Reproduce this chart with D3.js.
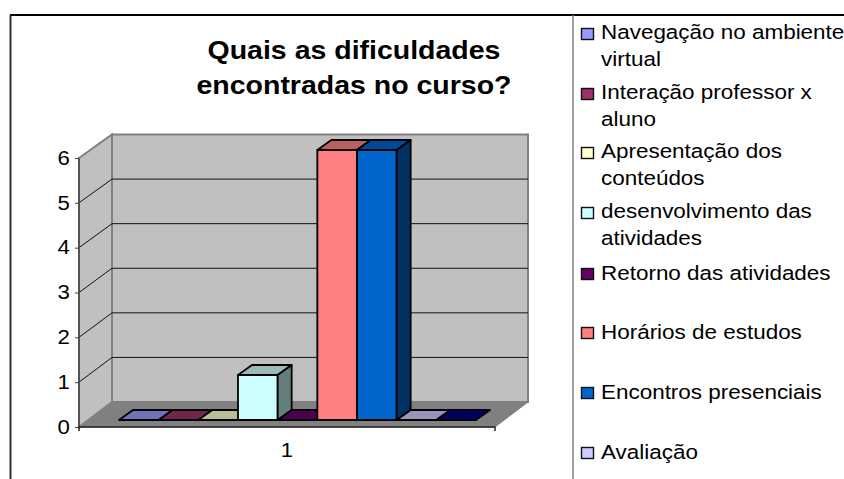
<!DOCTYPE html>
<html><head><meta charset="utf-8">
<script src="https://cdn.jsdelivr.net/npm/d3@7/dist/d3.min.js"></script>
<style>html,body{margin:0;padding:0;background:#fff;overflow:hidden}svg{display:block}text{font-family:"Liberation Sans",Arial,sans-serif;fill:#000}</style>
</head><body><div id="c"></div>
<script>
const titleLines = ["Quais as dificuldades", "encontradas no curso?"];
const seriesNames = ["Navegação no ambiente virtual", "Interação professor x aluno", "Apresentação dos conteúdos", "desenvolvimento das atividades", "Retorno das atividades", "Horários de estudos", "Encontros presenciais", "Avaliação", "(sem legenda)"];
const seriesValues = [0, 0, 0, 1, 0, 6, 6, 0, 0];
const seriesColors = ["#9999FF", "#993366", "#FFFFCC", "#CCFFFF", "#660066", "#FF8080", "#0066CC", "#CCCCFF", "#000080"];
const legendLabels = [["Navegação no ambiente", "virtual"], ["Interação professor x", "aluno"], ["Apresentação dos", "conteúdos"], ["desenvolvimento das", "atividades"], ["Retorno das atividades"], ["Horários de estudos"], ["Encontros presenciais"], ["Avaliação"]];
const legendCenters = [34, 94, 153, 213, 274, 333, 393, 453];
const yTicks = [0, 1, 2, 3, 4, 5, 6];
const xCategory = ["1"];

const W = 844, H = 479, sx = 1.14;
const svg = d3.select("#c").append("svg").attr("width", W).attr("height", H);

const dx = 33;
const y = d3.scaleLinear().domain([0, 6]).range([427, 158]);
const yBack = d3.scaleLinear().domain([0, 6]).range([402, 134.5]);
const xCat = d3.scaleBand().domain(xCategory).range([79, 495]);
const xBar = d3.scaleBand().domain(d3.range(seriesValues.length)).range([119, 476]);
const yBar = d3.scaleLinear().domain([0, 6]).range([420, 150]);
const bdx = 14, bdy = -10;
const pts = a => a.map(p => p.join(",")).join(" ");

// frame
svg.append("line").attr("x1", 10).attr("x2", W).attr("y1", 15).attr("y2", 15).attr("stroke", "#000").attr("stroke-width", 2);
svg.append("line").attr("x1", 10.5).attr("x2", 10.5).attr("y1", 15).attr("y2", H).attr("stroke", "#333").attr("stroke-width", 2);
svg.append("line").attr("x1", 573).attr("x2", 573).attr("y1", 15).attr("y2", H).attr("stroke", "#808080").attr("stroke-width", 1.5);

// title
svg.append("g").selectAll("text").data(titleLines).join("text")
  .attr("transform", (d, i) => `translate(354,${59 + i * 35}) scale(${sx},1)`)
  .attr("text-anchor", "middle").attr("font-weight", "bold").attr("font-size", 25).text(d => d);

// walls and floor
const x0 = xCat.range()[0], x1 = xCat.range()[1];
const y0 = y(0), yT = y(6), b0 = yBack(0), bT = yBack(6);
svg.append("polygon").attr("points", pts([[x0 + dx, bT], [x1 + dx, bT], [x1 + dx, b0], [x0 + dx, b0]]))
  .attr("fill", "#C0C0C0").attr("stroke", "#808080").attr("stroke-width", 2);
svg.append("polygon").attr("points", pts([[x0, yT], [x0 + dx, bT], [x0 + dx, b0], [x0, y0]]))
  .attr("fill", "#C0C0C0").attr("stroke", "#808080").attr("stroke-width", 2);
svg.append("polygon").attr("points", pts([[x0, y0], [x1, y0], [x1 + dx, b0], [x0 + dx, b0]]))
  .attr("fill", "#808080").attr("stroke", "#808080");

// gridlines
svg.append("g").selectAll("polyline").data(yTicks.filter(t => t > 0 && t < 6)).join("polyline")
  .attr("points", d => pts([[x0, y(d)], [x0 + dx, yBack(d)], [x1 + dx, yBack(d)]]))
  .attr("fill", "none").attr("stroke", "#111").attr("stroke-width", 1);

// bars
const bars = svg.append("g").selectAll("g").data(seriesValues).join("g");
bars.each(function (v, i) {
  const g = d3.select(this), a = xBar(i), b = a + xBar.bandwidth(), t = yBar(v), f = yBar(0), c = d3.color(seriesColors[i]);
  const style = s => s.attr("stroke", "#000").attr("stroke-width", 1.8).attr("stroke-linejoin", "round");
  if (v > 0) style(g.append("polygon").attr("points", pts([[a, t], [b, t], [b, f], [a, f]])).attr("fill", c));
  style(g.append("polygon").attr("points", pts([[a, t], [b, t], [b + bdx, t + bdy], [a + bdx, t + bdy]])).attr("fill", c.darker(0.85)));
  if (v > 0) style(g.append("polygon").attr("points", pts([[b, t], [b + bdx, t + bdy], [b + bdx, f + bdy], [b, f]])).attr("fill", c.darker(2)));
});

// axes
const yAxis = d3.axisLeft(y).tickValues(yTicks).tickFormat(d3.format("d")).tickSize(4).tickPadding(4);
const gy = svg.append("g").attr("transform", `translate(${x0},0)`).call(yAxis);
gy.selectAll("text").attr("font-size", 19.5).attr("font-family", '"Liberation Sans",Arial,sans-serif').attr("transform", `scale(${sx},1)`);
gy.selectAll(".tick line").attr("stroke", "#444");
gy.select(".domain").attr("stroke", "#444").attr("stroke-width", 1.5).attr("d", `M${0},${yT}V${y0}`);

const xAxis = d3.axisBottom(xCat).tickSize(0).tickPadding(16);
const gx = svg.append("g").attr("transform", `translate(0,${y0})`).call(xAxis);
gx.selectAll("text").attr("font-size", 19.5).attr("font-family", '"Liberation Sans",Arial,sans-serif').attr("transform", `scale(${sx},1)`);
gx.select(".domain").attr("stroke", "#222").attr("stroke-width", 1.5).attr("d", `M${x0},4V0H${x1}V4`);

// legend
const lg = svg.append("g").selectAll("g").data(legendLabels).join("g")
  .attr("transform", (d, i) => `translate(0,${legendCenters[i]})`);
lg.append("rect").attr("x", 581.5).attr("y", -5.5).attr("width", 12).attr("height", 11)
  .attr("fill", (d, i) => seriesColors[i]).attr("stroke", "#111").attr("stroke-width", 1.4);
lg.each(function (lines) {
  d3.select(this).selectAll("text").data(lines).join("text")
    .attr("transform", (d, i) => `translate(601,${5 + i * 27 + (lines.length > 1 ? 0 : 1)}) scale(${sx},1)`)
    .attr("font-size", 19.7).text(d => d);
});
</script></body></html>
